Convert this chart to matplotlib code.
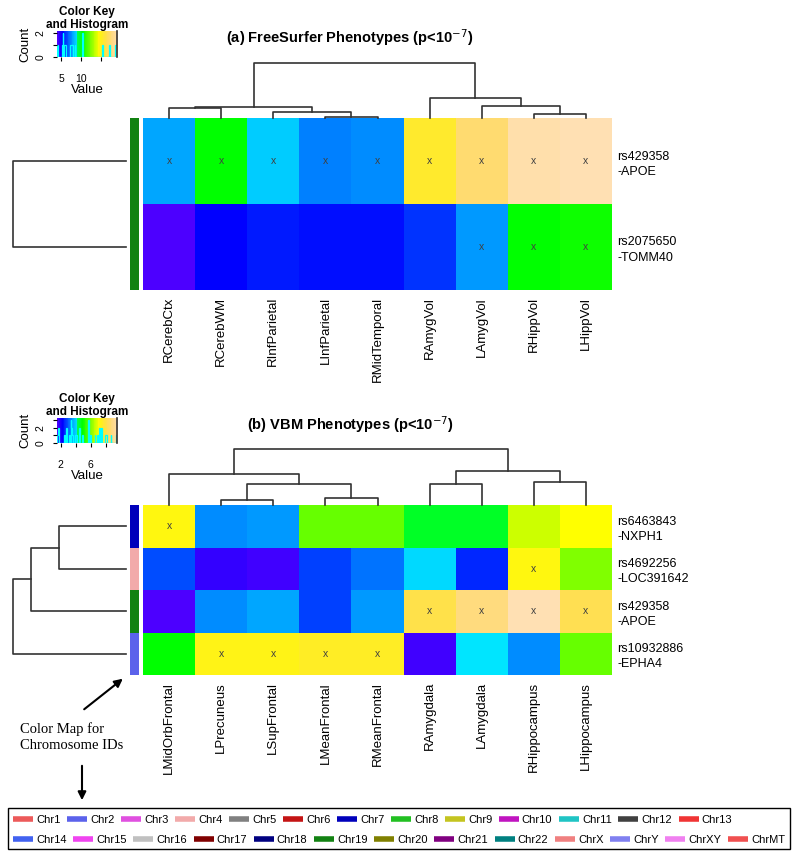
import numpy as np
import matplotlib
matplotlib.use("Agg")
import matplotlib.pyplot as plt
from matplotlib.colors import ListedColormap, hsv_to_rgb
from matplotlib.lines import Line2D
from matplotlib.patches import Rectangle, FancyArrowPatch

plt.rcParams["font.family"] = ["Liberation Sans", "DejaVu Sans"]
plt.rcParams["mathtext.fontset"] = "custom"
plt.rcParams["mathtext.rm"] = "Liberation Sans:bold"
plt.rcParams["mathtext.default"] = "rm"

# chromosome colour map (legend + row side bars)
CHROMOSOMES = ["Chr1", "Chr2", "Chr3", "Chr4", "Chr5", "Chr6", "Chr7", "Chr8", "Chr9",
               "Chr10", "Chr11", "Chr12", "Chr13", "Chr14", "Chr15", "Chr16", "Chr17",
               "Chr18", "Chr19", "Chr20", "Chr21", "Chr22", "ChrX", "ChrY", "ChrXY", "ChrMT"]
CHR_COLORS = ["#EC5A5A", "#5B62EB", "#E050E0", "#F2AAAA", "#808080", "#C41414", "#0000BB",
              "#22C022", "#C4C420", "#C014C0", "#20C4C4", "#404040", "#F03434", "#4262F0",
              "#F044F0", "#C0C0C0", "#800000", "#000080", "#128212", "#808000", "#800080",
              "#008080", "#F08080", "#8080F0", "#F080F0", "#F05050"]

# (a) FreeSurfer phenotypes, -log10(p)
FS_SNPS = ["rs429358\n-APOE", "rs2075650\n-TOMM40"]
FS_CHR = ["Chr19", "Chr19"]
FS_PHENO = ["RCerebCtx", "RCerebWM", "RInfParietal", "LInfParietal", "RMidTemporal",
            "RAmygVol", "LAmygVol", "RHippVol", "LHippVol"]
FS_LOGP = [[7.9, 10.3, 8.4, 7.3, 7.5, 15.3, 17.0, 18.6, 19.0],
           [4.0, 5.2, 5.8, 5.5, 5.5, 6.0, 7.7, 10.3, 10.5]]
# linkage: (child a, child b, height); leaves are 0..n-1 in display order
FS_COL_LINK = [(3, 4, 1.0), (2, 9, 6.0), (0, 1, 10.5), (11, 10, 11.0),
               (7, 8, 4.0), (6, 13, 12.0), (5, 14, 20.0), (12, 15, 55.0)]
FS_ROW_LINK = [(0, 1, 113.0)]

# (b) VBM phenotypes, -log10(p)
VBM_SNPS = ["rs6463843\n-NXPH1", "rs4692256\n-LOC391642", "rs429358\n-APOE", "rs10932886\n-EPHA4"]
VBM_CHR = ["Chr7", "Chr4", "Chr19", "Chr2"]
VBM_PHENO = ["LMidOrbFrontal", "LPrecuneus", "LSupFrontal", "LMeanFrontal", "RMeanFrontal",
             "RAmygdala", "LAmygdala", "RHippocampus", "LHippocampus"]
VBM_LOGP = [[7.1, 3.35, 3.5, 5.7, 5.7, 4.5, 4.5, 6.6, 6.9],
            [2.85, 1.75, 1.65, 2.7, 3.2, 4.0, 2.55, 7.1, 5.9],
            [1.5, 3.35, 3.6, 2.7, 3.5, 7.9, 8.7, 9.5, 8.1],
            [4.9, 7.25, 7.25, 7.4, 7.4, 1.65, 4.15, 3.4, 5.75]]
VBM_COL_LINK = [(1, 2, 5.0), (3, 4, 7.0), (9, 10, 21.0), (0, 11, 31.0),
                (5, 6, 21.0), (7, 8, 23.0), (13, 14, 34.0), (12, 15, 56.0)]
VBM_ROW_LINK = [(0, 1, 67.0), (4, 2, 95.0), (5, 3, 113.0)]

N_COLORS = 75
P_CUT = 7.0   # cells with p < 1e-7 get an "x"

W, H = 800, 860
fig = plt.figure(figsize=(W / 100, H / 100), dpi=100)


def topo_colors(n):
    # same recipe as R's topo.colors()
    j = n // 3
    k = n // 3
    i = n - j - k
    part1 = np.column_stack([np.linspace(43 / 60, 31 / 60, i), np.ones(i), np.ones(i)])
    part2 = np.column_stack([np.linspace(23 / 60, 11 / 60, j), np.ones(j), np.ones(j)])
    part3 = np.column_stack([np.linspace(10 / 60, 6 / 60, k), np.linspace(1, 0.3, k), np.ones(k)])
    return ListedColormap(hsv_to_rgb(np.vstack([part1, part2, part3])))


TOPO = topo_colors(N_COLORS)


def px_axes(x0, y0, x1, y1):
    return fig.add_axes([x0 / W, 1 - y1 / H, (x1 - x0) / W, (y1 - y0) / H])


def draw_dendro(ax, links, n, top):
    pos = {i: i + 0.5 for i in range(n)}
    hgt = {i: 0.0 for i in range(n)}
    for k, (a, b, h) in enumerate(links):
        xs = [pos[a], pos[a], pos[b], pos[b]]
        ys = [hgt[a], h, h, hgt[b]]
        if top:
            ax.plot(xs, ys, color="#333333", lw=1.2, clip_on=False)
        else:
            ax.plot(ys, xs, color="#333333", lw=1.2, clip_on=False)
        pos[n + k] = (pos[a] + pos[b]) / 2
        hgt[n + k] = h
    ax.axis("off")
    return max(h for _, _, h in links)


def draw_key(vals, y0, y1, ticks, labels):
    vmin, vmax = vals.min(), vals.max()
    ax = px_axes(57, y0, 117, y1)
    counts, edges = np.histogram(vals, bins=np.linspace(vmin, vmax, N_COLORS + 1))
    ytop = counts.max() * 1.1
    grad = np.linspace(vmin, vmax, 300)[None, :]
    ax.imshow(grad, cmap=TOPO, vmin=vmin, vmax=vmax, extent=[vmin, vmax, 0, ytop],
              aspect="auto", interpolation="nearest")
    ax.stairs(counts, edges, color="cyan", lw=0.9)
    ax.plot([vmax, vmax], [0, ytop], color="#333333", lw=1.2, clip_on=False)
    ax.set_xlim(vmin, vmax)
    ax.set_ylim(0, ytop)
    ax.set_xticks(ticks)
    ax.set_xticklabels(labels)
    cticks = np.arange(0, counts.max() + 1)
    ax.set_yticks(cticks)
    ax.set_yticklabels([str(c) if c % 2 == 0 else "" for c in cticks], rotation=90, va="center")
    ax.tick_params(axis="x", labelsize=7.5, length=3, pad=9)
    ax.tick_params(axis="y", labelsize=7.5, length=3, pad=5)
    for s in ax.spines.values():
        s.set_visible(False)
    ax.set_xlabel("Value", fontsize=9.5, labelpad=0)
    ax.set_ylabel("Count", fontsize=9.5, labelpad=3)
    ax.set_title("Color Key\nand Histogram", fontsize=8.5, fontweight="bold",
                 linespacing=1.15, pad=1)


def draw_panel(values, snps, chrs, phenos, col_link, row_link, y_heat, y_dendro,
               y_key, key_ticks, key_labels, title, y_title):
    vals = np.array(values)
    nr, nc = vals.shape
    y0, y1 = y_heat

    ax = px_axes(143, y0, 612, y1)
    ax.pcolormesh(vals, cmap=TOPO, vmin=vals.min(), vmax=vals.max())
    ax.set_xlim(0, nc)
    ax.set_ylim(nr, 0)
    for i, j in zip(*np.nonzero(vals > P_CUT)):
        ax.text(j + 0.5, i + 0.5, "x", ha="center", va="center", fontsize=7.5, color="#404040")
    ax.set_xticks(np.arange(nc) + 0.5)
    ax.set_xticklabels(phenos, rotation=90, fontsize=9.5)
    ax.set_yticks(np.arange(nr) + 0.5)
    ax.set_yticklabels(snps, fontsize=9, linespacing=1.35, ha="left")
    ax.yaxis.tick_right()
    ax.tick_params(axis="x", length=0, pad=5)
    ax.tick_params(axis="y", length=0, pad=4)
    for s in ax.spines.values():
        s.set_visible(False)

    side = px_axes(130, y0, 139, y1)
    side.barh(np.arange(nr) + 0.5, 1, height=1,
              color=[CHR_COLORS[CHROMOSOMES.index(c)] for c in chrs])
    side.set_xlim(0, 1)
    side.set_ylim(nr, 0)
    side.axis("off")

    rd = px_axes(13, y0, 126, y1)
    hmax = draw_dendro(rd, row_link, nr, top=False)
    rd.set_xlim(hmax, 0)
    rd.set_ylim(nr, 0)

    cd = px_axes(143, y_dendro, 612, y0)
    hmax = draw_dendro(cd, col_link, nc, top=True)
    cd.set_xlim(0, nc)
    cd.set_ylim(0, hmax)

    draw_key(vals, y_key[0], y_key[1], key_ticks, key_labels)

    fig.text(350 / W, 1 - y_title / H, title, ha="center", va="center",
             fontsize=10.5, fontweight="bold")


draw_panel(FS_LOGP, FS_SNPS, FS_CHR, FS_PHENO, FS_COL_LINK, FS_ROW_LINK,
           (118, 290), 63, (31, 57), [5, 10, 15], ["5", "10", ""],
           r"(a) FreeSurfer Phenotypes (p<10$^{\mathsf{-7}}$)", 37)
draw_panel(VBM_LOGP, VBM_SNPS, VBM_CHR, VBM_PHENO, VBM_COL_LINK, VBM_ROW_LINK,
           (505, 675), 449, (418, 443), [2, 4, 6, 8], ["2", "", "6", ""],
           r"(b) VBM Phenotypes (p<10$^{\mathsf{-7}}$)", 424)

# annotation for the side colour bar
fig.text(20 / W, 1 - 737 / H, "Color Map for\nChromosome IDs", ha="left", va="center",
         family="Liberation Serif", fontsize=10.5, linespacing=1.35)
fig.add_artist(FancyArrowPatch((82 / W, 1 - 711 / H), (125 / W, 1 - 677 / H),
                               transform=fig.transFigure, arrowstyle="-|>",
                               mutation_scale=12, lw=1.5, color="black"))
fig.add_artist(FancyArrowPatch((82 / W, 1 - 763 / H), (82 / W, 1 - 803 / H),
                               transform=fig.transFigure, arrowstyle="-|>",
                               mutation_scale=12, lw=1.5, color="black"))

# chromosome legend: two rows, each packed on its own
handles = [Line2D([], [], color=c, lw=4, solid_capstyle="butt") for c in CHR_COLORS]
for row, yc in [(0, 820), (1, 840)]:
    sl = slice(row * 13, row * 13 + 13)
    fig.legend(handles[sl], CHROMOSOMES[sl], ncol=13, loc="center left",
               bbox_to_anchor=(13 / W, 1 - yc / H), frameon=False, fontsize=8,
               handlelength=1.8, handletextpad=0.27, columnspacing=0.6,
               borderpad=0, borderaxespad=0)
fig.add_artist(Rectangle((8 / W, 1 - 849 / H), 782 / W, 41 / H, transform=fig.transFigure,
                         fill=False, edgecolor="black", lw=1))

fig.savefig("out.png", dpi=100)
